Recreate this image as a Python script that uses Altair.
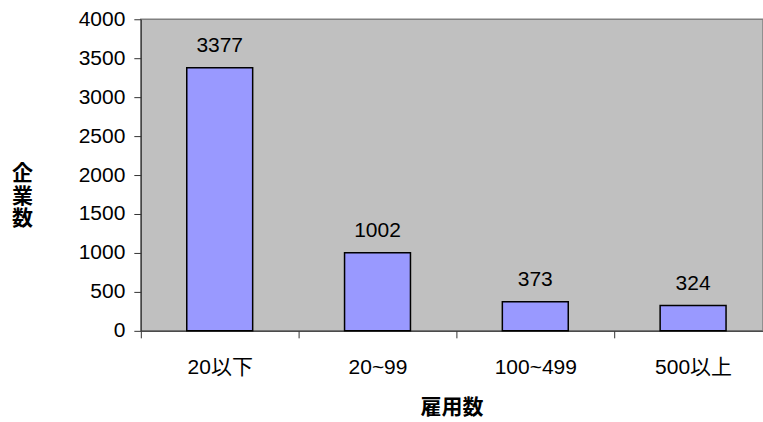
import altair as alt
import pandas as pd

categories = ["20以下", "20~99", "100~499", "500以上"]
counts = [3377, 1002, 373, 324]

df = pd.DataFrame({"cat": categories, "n": counts})

FONT = "Liberation Sans, Arial, Noto Sans CJK JP, sans-serif"

x = alt.X("cat:N", sort=categories,
          scale=alt.Scale(paddingInner=0, paddingOuter=0, range=[0, 632]),
          axis=alt.Axis(title="雇用数", labelAngle=0, tickBand="extent",
                        tickSize=7, tickColor="#333333", domainColor="#333333",
                        labelPadding=19, labelFontSize=21, labelColor="#000000",
                        labelFont=FONT, titleFont=FONT, titleFontSize=21,
                        titleFontWeight="bold", titlePadding=19, titleColor="#000000",
                        titleX=311))
y = alt.Y("n:Q", scale=alt.Scale(domain=[0, 4000], nice=False),
          axis=alt.Axis(values=list(range(0, 4001, 500)), format="d",
                        title=["企", "業", "数"],
                        titleAngle=0, titleAlign="center", titleBaseline="middle",
                        titleX=-119, titleY=154, titleLineHeight=23,
                        titleFont=FONT, titleFontSize=21, titleFontWeight="bold",
                        titleColor="#000000", tickSize=7, tickColor="#333333",
                        domainColor="#333333", labelPadding=9, labelFontSize=21,
                        labelColor="#000000", labelFont=FONT, grid=False))

bars = alt.Chart(df).mark_bar(size=66, color="#9999FF", stroke="#000000",
                              strokeWidth=1.5).encode(x=x, y=y)
labels = alt.Chart(df).mark_text(dy=-22, fontSize=21, font=FONT,
                                 color="#000000").encode(x=x, y=y, text="n:Q")

chart = (bars + labels).properties(
    width=623, height=312,
    autosize=alt.AutoSizeParams(type="none"),
    padding={"left": 141, "top": 19, "right": 0, "bottom": 91},
    background="#FFFFFF",
).configure_view(fill="#C0C0C0", stroke="#808080", strokeWidth=1.5)

chart.save("out.html", embed_options={"renderer": "svg", "actions": False})
